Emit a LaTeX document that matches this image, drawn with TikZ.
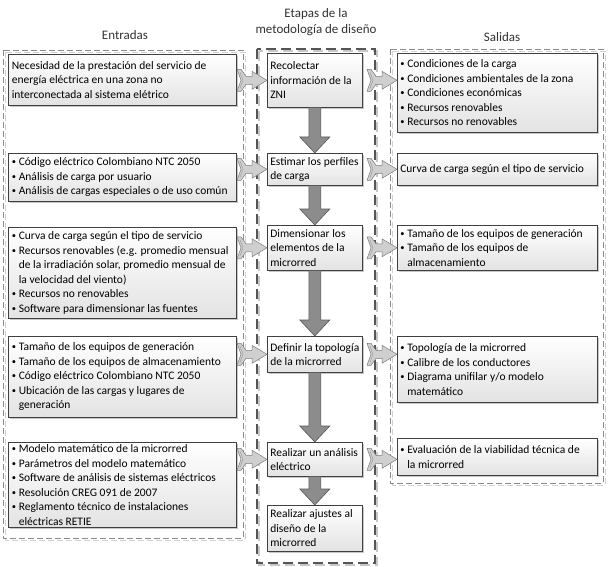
\documentclass[tikz,border=0pt]{standalone}
\usepackage{fontspec}
\setmainfont{Carlito}
\usetikzlibrary{calc,shadows}
\definecolor{framegray}{HTML}{8A8A8A}
\definecolor{midframe}{HTML}{555555}
\definecolor{boxline}{HTML}{404040}
\definecolor{varrfill}{HTML}{8C8C8C}
\definecolor{varrline}{HTML}{5A5A5A}
\definecolor{harrfill}{HTML}{CFCFCF}
\definecolor{harrline}{HTML}{7A7A7A}
\definecolor{titlecol}{HTML}{333333}
\newcommand\bu{\makebox[7bp][l]{\raisebox{0.9bp}{\fontsize{8.5bp}{8.5bp}\selectfont•}}}
\newcommand\hi{\hspace*{7bp}}
\newcommand\mybox[7][]{%
  \pgfmathsetmacro\bw{#5-#3}%
  \pgfmathsetmacro\bh{#6-#4}%
  \node[box,#1,minimum width=\bw bp,minimum height=\bh bp,anchor=north west] (#2) at (#3,#4)
    {\pgfmathsetmacro\tw{#5-#3-6}\parbox{\tw bp}{\raggedright #7}};}
\newcommand\harrow[1]{%
  \begin{scope}[shift={(#1)}]
    \path[harr] (-30,-11) -- (-26,-11) -- (-21,-4) -- (-15,-4) -- (-15,-9) -- (0,0)
      -- (-15,9) -- (-15,4) -- (-21,4) -- (-26,11) -- (-30,11) -- (-26,0) -- cycle;
    \draw[harrline!80,line width=0.4bp] (-27,-8) -- (-24,0) -- (-27,8);
  \end{scope}}
\newcommand\varrow[2]{%
  \path[varr] ($(#1.south)+(-6,0)$) -- ($(#1.south)+(6,0)$) -- ($(#2.north)+(6,-16)$)
    -- ($(#2.north)+(15,-16)$) -- (#2.north) -- ($(#2.north)+(-15,-16)$)
    -- ($(#2.north)+(-6,-16)$) -- cycle;}
\tikzset{
  box/.style={draw=boxline,line width=0.6bp,top color=white,bottom color=black!11,
    drop shadow={shadow xshift=1.8bp,shadow yshift=-1.8bp,fill=black!40,opacity=0.55},
    inner xsep=3bp,inner ysep=1bp,
    font=\fontsize{11.5bp}{14.5bp}\selectfont},
  lbox/.style={inner xsep=3.5bp},
  sideframe/.style={draw=framegray,line width=0.8bp,dash pattern=on 6bp off 3bp},
  sideshadow/.style={draw=black!18,line width=0.8bp,dash pattern=on 6bp off 3bp},
  midframestyle/.style={draw=midframe,line width=1.6bp,dash pattern=on 10bp off 5bp},
  midshadow/.style={draw=black!22,line width=1.6bp,dash pattern=on 10bp off 5bp},
  harr/.style={fill=harrfill,draw=harrline,line width=0.5bp,line join=miter},
  varr/.style={fill=varrfill,draw=varrline,line width=0.6bp,line join=miter},
  title/.style={text=titlecol,font=\fontsize{13bp}{16bp}\selectfont,align=center}
}
\begin{document}
\begin{tikzpicture}[x=1bp,y=-1bp]
\useasboundingbox[fill=white] (0,0) rectangle (610,567);
% titles
\node[title] (tin) at (125,35) {Entradas};
\node[title] (tmid) at (316,22) {Etapas de la\\metodología de diseño};
\node[title] (tout) at (502,37) {Salidas};
% frames
\draw[sideshadow] (5,52) rectangle (245,540);
\draw[sideframe] (3,50) rectangle (243,538);
\draw[midshadow] (259,51) rectangle (377,565);
\draw[midframestyle] (257,49) rectangle (375,563);
\draw[sideshadow] (392,51) rectangle (605,485);
\draw[sideframe] (390,49) rectangle (603,483);
% left boxes
\mybox[lbox]{L1}{8}{54}{235}{105}{Necesidad de la prestación del servicio de\\energía eléctrica en una zona no\\interconectada al sistema elétrico}
\mybox[lbox]{L2}{8}{153}{235}{201}{\bu Código eléctrico Colombiano NTC 2050\\\bu Análisis de carga por usuario\\\bu Análisis de cargas especiales o de uso común}
\mybox[lbox]{L3}{8}{227}{235}{318}{\bu Curva de carga según el tipo de servicio\\\bu Recursos renovables (e.g. promedio mensual\\\hi de la irradiación solar, promedio mensual de\\\hi la velocidad del viento)\\\bu Recursos no renovables\\\bu Software para dimensionar las fuentes}
\mybox[lbox]{L4}{8}{336}{235}{417}{\bu Tamaño de los equipos de generación\\\bu Tamaño de los equipos de almacenamiento\\\bu Código eléctrico Colombiano NTC 2050\\\bu Ubicación de las cargas y lugares de\\\hi generación}
\mybox[lbox]{L5}{8}{442}{235}{527}{\bu Modelo matemático de la microrred\\\bu Parámetros del modelo matemático\\\bu Software de análisis de sistemas eléctricos\\\bu Resolución CREG 091 de 2007\\\bu Reglamento técnico de instalaciones\\\hi eléctricas RETIE}
% middle boxes
\mybox[inner xsep=1.5bp]{M1}{267}{53}{362}{107}{Recolectar\\información de la\\ZNI}
\mybox[inner xsep=1.5bp]{M2}{267}{153}{362}{185}{Estimar los perfiles\\de carga}
\mybox[inner xsep=1.5bp]{M3}{267}{225}{362}{270}{Dimensionar los\\elementos de la\\microrred}
\mybox[inner xsep=1.5bp]{M4}{267}{336}{362}{372}{Definir la topología\\de la microrred}
\mybox[inner xsep=1.5bp]{M5}{267}{442}{362}{476}{Realizar un análisis\\eléctrico}
\mybox[inner xsep=1.5bp]{M6}{267}{505}{362}{551}{Realizar ajustes al\\diseño de la\\microrred}
% right boxes
\mybox[inner xsep=2bp]{R1}{397}{53}{597}{132}{\bu Condiciones de la carga\\\bu Condiciones ambientales de la zona\\\bu Condiciones económicas\\\bu Recursos renovables\\\bu Recursos no renovables}
\mybox[inner xsep=2bp]{R2}{397}{153}{597}{185}{Curva de carga según el tipo de servicio}
\mybox[inner xsep=2bp]{R3}{397}{225}{597}{270}{\bu Tamaño de los equipos de generación\\\bu Tamaño de los equipos de\\\hi almacenamiento}
\mybox[inner xsep=2bp]{R4}{397}{336}{597}{402}{\bu Topología de la microrred\\\bu Calibre de los conductores\\\bu Diagrama unifilar y/o modelo\\\hi matemático}
\mybox[inner xsep=2bp]{R5}{397}{438}{597}{475}{\bu Evaluación de la viabilidad técnica de\\\hi la microrred}
% vertical arrows
\varrow{M1}{M2}
\varrow{M2}{M3}
\varrow{M3}{M4}
\varrow{M4}{M5}
\varrow{M5}{M6}
% horizontal arrows
\harrow{M1.west}
\harrow{M2.west}
\harrow{M3.west}
\harrow{M4.west}
\harrow{M5.west}
\harrow{R1.west |- M1.east}
\harrow{R2.west |- M2.east}
\harrow{R3.west |- M3.east}
\harrow{R4.west |- M4.east}
\harrow{R5.west |- M5.east}
\end{tikzpicture}
\end{document}
